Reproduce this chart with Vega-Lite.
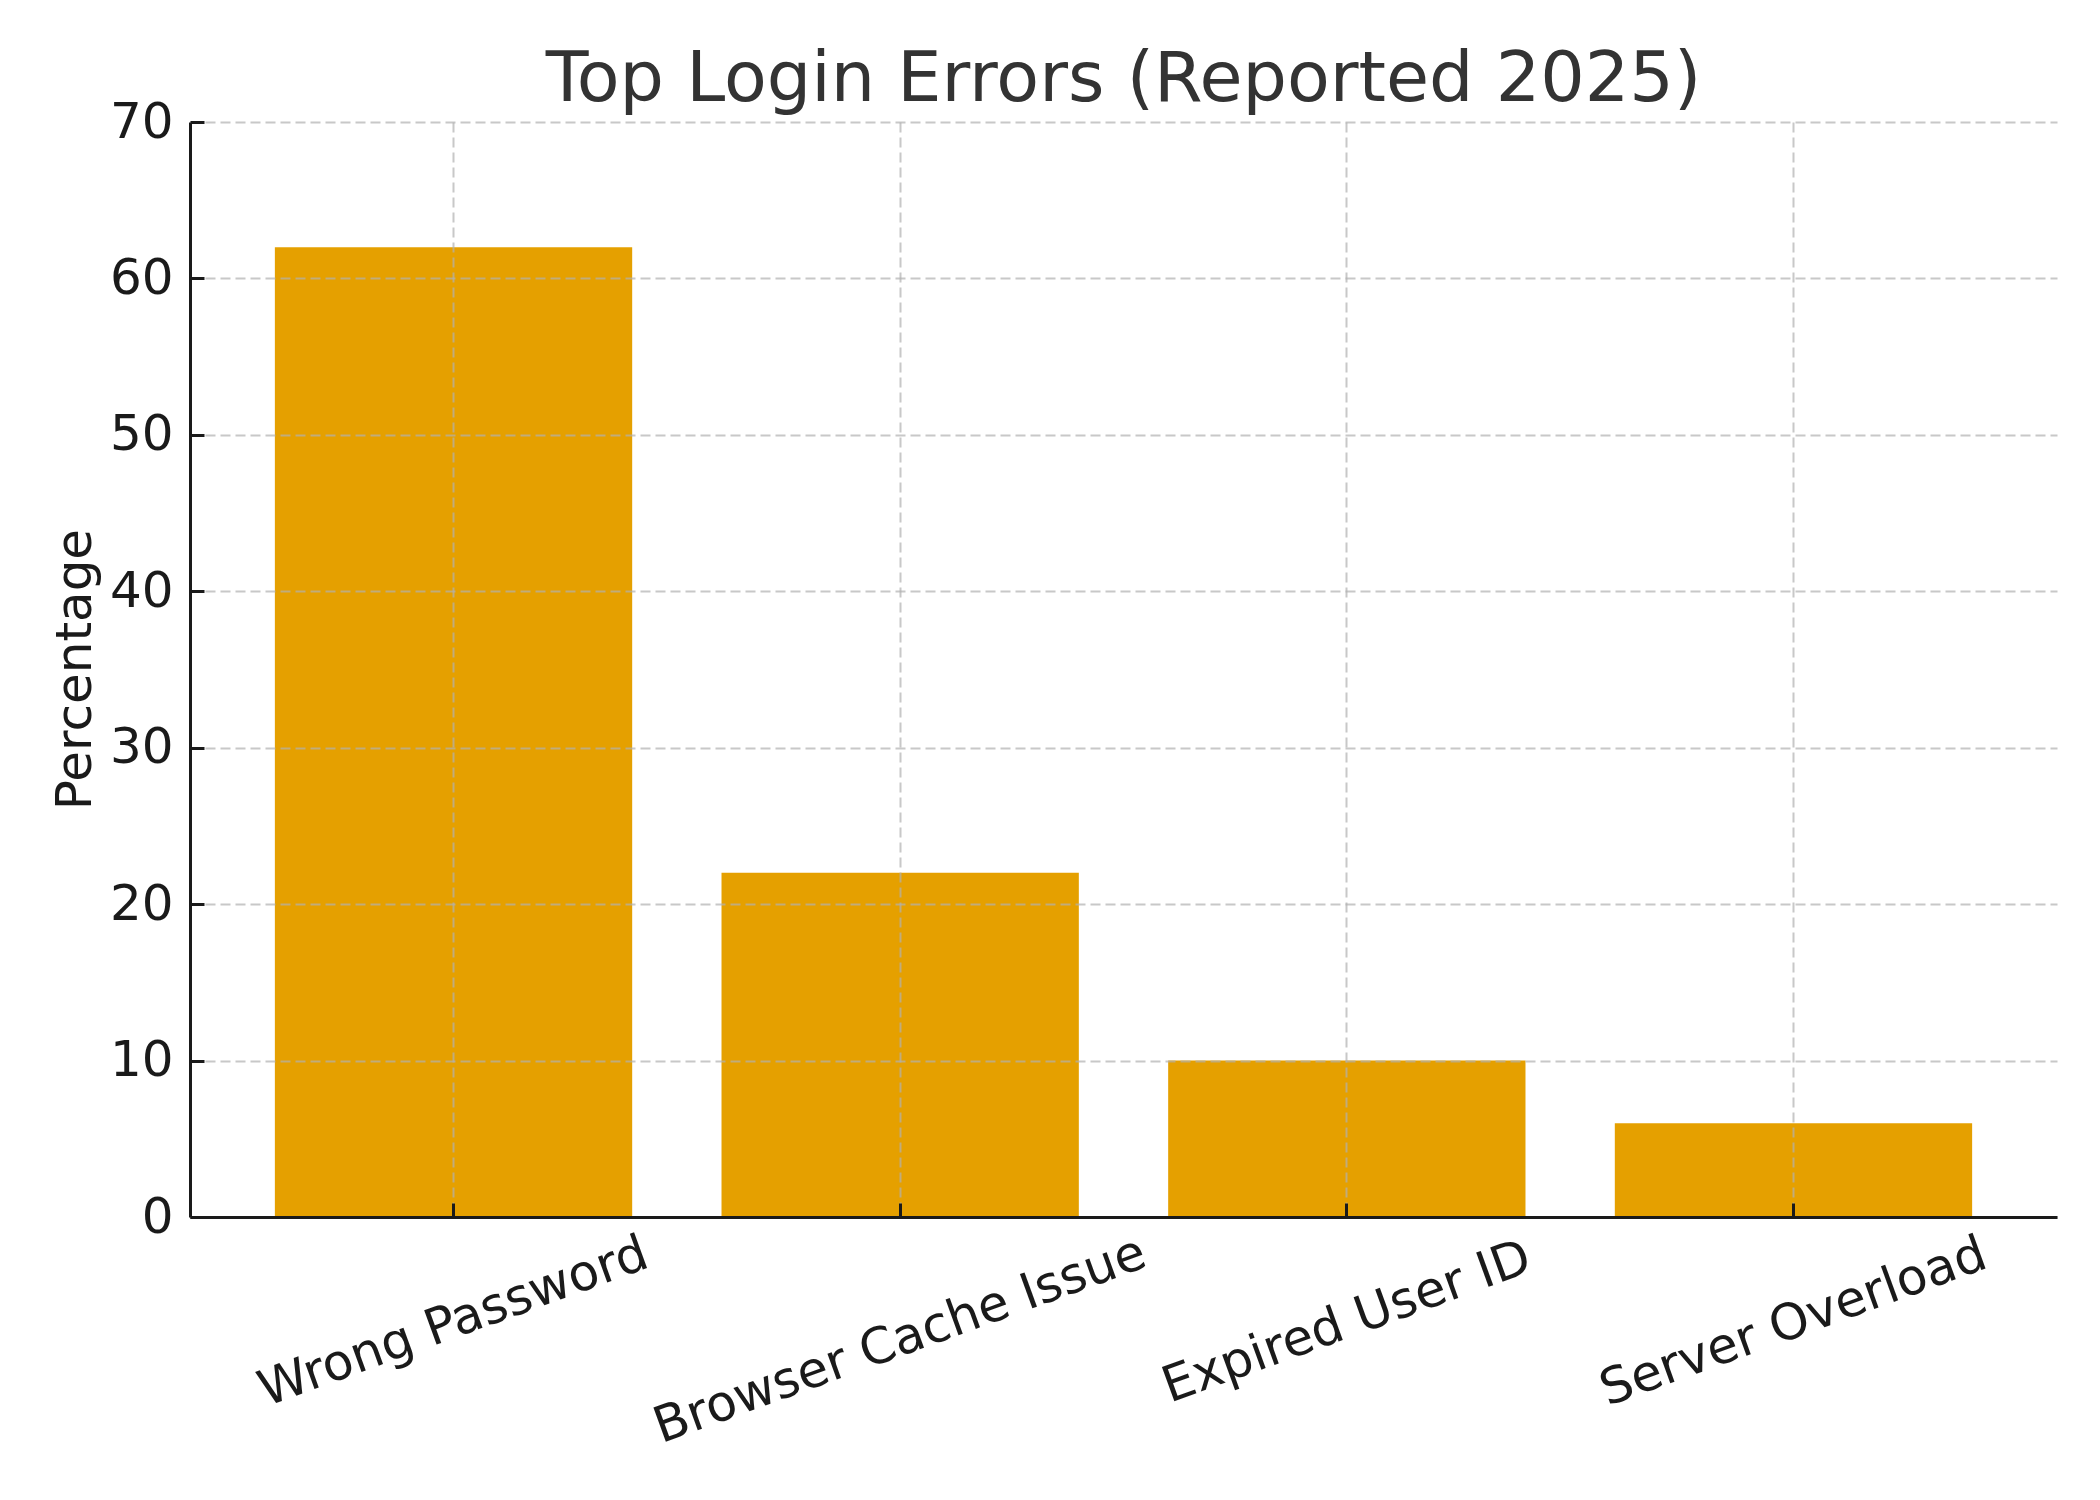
{
  "$schema": "https://vega.github.io/schema/vega-lite/v6.json",
  "width": 1867,
  "height": 1095,
  "autosize": "none",
  "padding": {"left": 190, "top": 122, "right": 43, "bottom": 283},
  "background": "white",
  "title": {
    "text": "Top Login Errors (Reported 2025)",
    "font": "DejaVu Sans", "fontSize": 70, "fontWeight": "normal",
    "color": "#333333", "anchor": "middle", "frame": "group",
    "baseline": "alphabetic", "offset": -74
  },
  "data": {
    "values": [
      {"error": "Wrong Password", "percentage": 62},
      {"error": "Browser Cache Issue", "percentage": 22},
      {"error": "Expired User ID", "percentage": 10},
      {"error": "Server Overload", "percentage": 6}
    ]
  },
  "mark": {"type": "bar", "color": "#E5A000"},
  "encoding": {
    "x": {
      "field": "error", "type": "nominal", "sort": null,
      "scale": {"paddingInner": 0.2, "paddingOuter": 0.19},
      "axis": {
        "title": null, "zindex": 1,
        "labelAngle": -20, "labelAlign": "center", "labelBaseline": "middle",
        "labelPadding": {"condition": {"test": "datum.value === 'Browser Cache Issue'", "value": 137}, "value": 119},
        "labelFontSize": 50, "labelLimit": 0
      }
    },
    "y": {
      "field": "percentage", "type": "quantitative",
      "scale": {"domain": [0, 70], "nice": false},
      "axis": {
        "title": "Percentage", "zindex": 1,
        "values": [0, 10, 20, 30, 40, 50, 60, 70],
        "titleFontSize": 50, "titleFontWeight": "normal", "titleColor": "#1a1a1a",
        "titleAngle": -90, "titleAlign": "center", "titleBaseline": "alphabetic",
        "titleX": -100, "titleY": 547,
        "labelFontSize": 50, "labelPadding": 31
      }
    }
  },
  "config": {
    "view": {"stroke": null},
    "axis": {
      "zindex": 1,
      "labelFont": "DejaVu Sans", "titleFont": "DejaVu Sans",
      "labelColor": "#1a1a1a",
      "domainColor": "#1a1a1a", "domainWidth": 3,
      "tickColor": "#1a1a1a", "tickWidth": 3, "tickSize": -14,
      "grid": true, "gridColor": "#b0b0b0", "gridOpacity": 0.7,
      "gridWidth": 2, "gridDash": [10, 5]
    }
  }
}
